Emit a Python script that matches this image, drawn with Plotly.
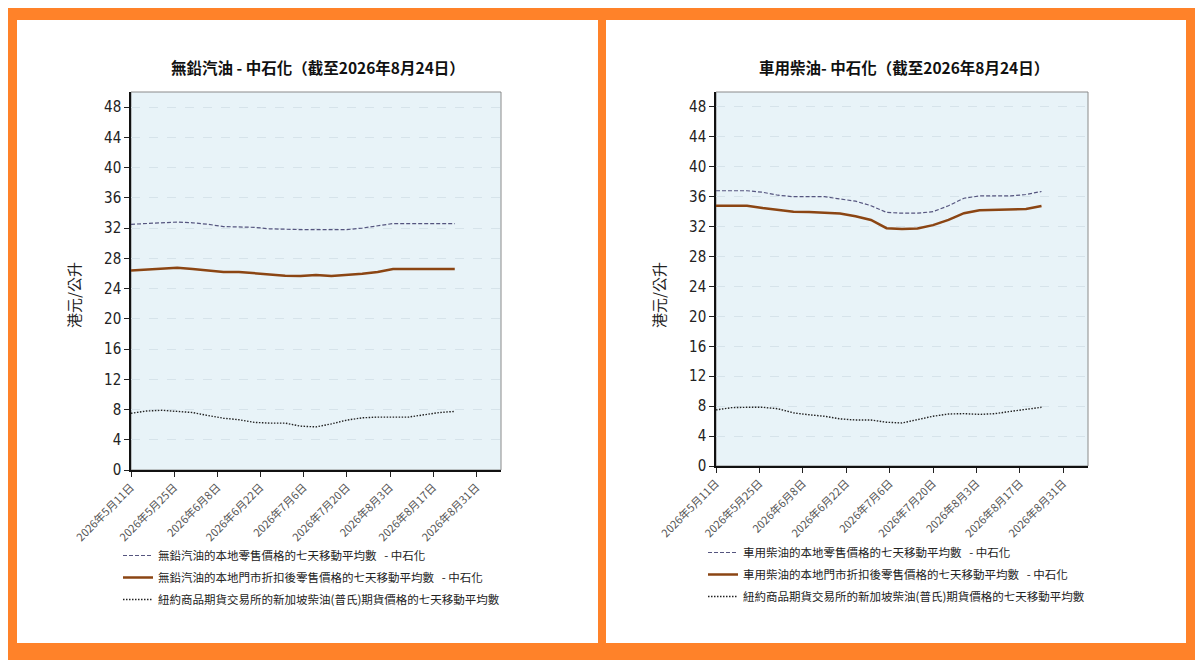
## Chart of 7-day moving averages for Sinopec fuel prices (two panels)
import plotly.graph_objects as go

# Dates of the readings (every 5 days, 11 May to 24 Aug 2026)
dates = ["2026-05-11", "2026-05-16", "2026-05-21", "2026-05-26", "2026-05-31",
         "2026-06-05", "2026-06-10", "2026-06-15", "2026-06-20", "2026-06-25",
         "2026-06-30", "2026-07-05", "2026-07-10", "2026-07-15", "2026-07-20",
         "2026-07-25", "2026-07-30", "2026-08-04", "2026-08-09", "2026-08-14",
         "2026-08-19", "2026-08-24"]

# Unleaded petrol (left panel)
petrol_retail = [32.5, 32.6, 32.7, 32.8, 32.7, 32.5, 32.2, 32.2, 32.1, 31.9, 31.8,
                 31.8, 31.8, 31.8, 31.8, 32.0, 32.3, 32.6, 32.6, 32.6, 32.6, 32.6]
petrol_discount = [26.4, 26.5, 26.6, 26.75, 26.6, 26.4, 26.2, 26.2, 26.0, 25.85, 25.7,
                   25.65, 25.8, 25.65, 25.75, 25.95, 26.2, 26.6, 26.6, 26.6, 26.6, 26.6]
petrol_futures = [7.5, 7.8, 7.9, 7.75, 7.6, 7.2, 6.85, 6.65, 6.3, 6.2, 6.2,
                  5.8, 5.7, 6.1, 6.6, 6.9, 7.0, 7.0, 7.0, 7.3, 7.6, 7.75]

# Motor diesel (right panel)
diesel_retail = [36.8, 36.8, 36.8, 36.6, 36.2, 36.0, 36.0, 36.0, 35.7, 35.4, 34.8,
                 33.9, 33.8, 33.8, 34.0, 34.8, 35.8, 36.1, 36.1, 36.1, 36.3, 36.7]
diesel_discount = [34.8, 34.8, 34.8, 34.5, 34.2, 34.0, 33.95, 33.9, 33.75, 33.4, 32.9,
                   31.8, 31.7, 31.75, 32.2, 32.9, 33.8, 34.2, 34.25, 34.25, 34.35, 34.75]
diesel_futures = [7.5, 7.8, 7.85, 7.85, 7.65, 7.1, 6.85, 6.65, 6.3, 6.15, 6.15,
                  5.85, 5.75, 6.2, 6.65, 6.95, 7.0, 6.9, 7.0, 7.3, 7.6, 7.85]

# Axis ticks
tick_dates = ["2026-05-11", "2026-05-25", "2026-06-08", "2026-06-22", "2026-07-06",
              "2026-07-20", "2026-08-03", "2026-08-17", "2026-08-31"]
tick_labels = ["2026年5月11日", "2026年5月25日", "2026年6月8日", "2026年6月22日",
               "2026年7月6日", "2026年7月20日", "2026年8月3日", "2026年8月17日",
               "2026年8月31日"]
y_ticks = list(range(0, 49, 4))

titles = ["無鉛汽油 - 中石化（截至2026年8月24日）", "車用柴油- 中石化（截至2026年8月24日）"]
names_petrol = ["無鉛汽油的本地零售價格的七天移動平均數   - 中石化",
                "無鉛汽油的本地門市折扣後零售價格的七天移動平均數   - 中石化",
                "紐約商品期貨交易所的新加坡柴油(普氏)期貨價格的七天移動平均數"]
names_diesel = ["車用柴油的本地零售價格的七天移動平均數   - 中石化",
                "車用柴油的本地門市折扣後零售價格的七天移動平均數   - 中石化",
                "紐約商品期貨交易所的新加坡柴油(普氏)期貨價格的七天移動平均數"]

# the page puts the figure 8px in from the top-left corner, so work in screen
# pixels and shift back by that amount
OFF = 8
W, H = 1203 - OFF, 660 - OFF
ORANGE = "#FF8229"
PLOT_BG = "#E8F3F8"
FONT = "Liberation Sans Narrow, DejaVu Sans Condensed, Noto Sans CJK TC, sans-serif"
CJK = "Noto Sans CJK TC, sans-serif"

def px(x):
    return (x - OFF) / W

def py(y):
    return 1 - (y - OFF) / H

fig = go.Figure()

panels = [
    ("x", "y", "legend", [petrol_retail, petrol_discount, petrol_futures], names_petrol),
    ("x2", "y2", "legend2", [diesel_retail, diesel_discount, diesel_futures], names_diesel),
]
styles = [
    dict(color="#55557F", width=1.2, dash="4px,2px"),
    dict(color="#8B4513", width=2.5),
    dict(color="#222222", width=1.4, dash="1.5px,1.5px"),
]
for p, (xa, ya, leg, series, names) in enumerate(panels):
    for k, (vals, name, st) in enumerate(zip(series, names, styles)):
        fig.add_trace(go.Scatter(x=dates, y=vals, name=name, mode="lines",
                                 line=st, xaxis=xa, yaxis=ya, legend=leg,
                                 legendgroup="g%d%d" % (p, k)))

# plot area positions in screen pixels: (left, right, top, bottom)
boxes = [(131, 501, 92, 470), (716, 1088, 92, 466)]

xaxis_common = dict(
    type="date", range=["2026-05-11", "2026-09-08"], automargin=False,
    tickvals=tick_dates, ticktext=tick_labels, tickangle=-45,
    ticks="outside", ticklen=5, tickcolor="#222", showgrid=False,
    showline=True, linecolor="#111", linewidth=1.5, zeroline=False,
    tickfont=dict(family=CJK, size=11, color="#555"),
)
yaxis_common = dict(
    range=[0, 50], tickvals=y_ticks, ticks="outside", ticklen=5, tickcolor="#222",
    automargin=False,
    showgrid=True, gridcolor="#D6E3EA", griddash="dash", gridwidth=1,
    showline=True, linecolor="#111", linewidth=1.5, zeroline=False,
    tickfont=dict(family=FONT, size=15, color="#222"),
)

legend_common = dict(xanchor="left", yanchor="top", bgcolor="rgba(0,0,0,0)",
                     font=dict(size=11.5, family=CJK), tracegroupgap=3)

fig.update_layout(
    width=W, height=H, autosize=False,
    margin=dict(l=0, r=0, t=0, b=0, autoexpand=False),
    paper_bgcolor=ORANGE, plot_bgcolor=PLOT_BG,
    font=dict(family=CJK, color="#222"),
    xaxis=dict(xaxis_common, domain=[px(boxes[0][0]), px(boxes[0][1])], anchor="y"),
    yaxis=dict(yaxis_common, domain=[py(boxes[0][3]), py(boxes[0][2])], anchor="x"),
    xaxis2=dict(xaxis_common, domain=[px(boxes[1][0]), px(boxes[1][1])], anchor="y2"),
    yaxis2=dict(yaxis_common, domain=[py(boxes[1][3]), py(boxes[1][2])], anchor="x2"),
    legend=dict(legend_common, x=px(118), y=py(541)),
    legend2=dict(legend_common, x=px(703), y=py(538)),
    showlegend=True,
)

# white panels, then the plot background box with a grey frame
for x0, x1 in [(17, 598), (606, 1186)]:
    fig.add_shape(type="rect", xref="paper", yref="paper", layer="below",
                  x0=px(x0), x1=px(x1), y0=py(643), y1=py(20),
                  fillcolor="white", line=dict(width=0))
for i, b in enumerate(boxes):
    sfx = "" if i == 0 else "2"
    fig.add_shape(type="rect", xref="x" + sfx + " domain", yref="y" + sfx + " domain",
                  layer="below", x0=0, x1=1, y0=0, y1=1,
                  fillcolor=PLOT_BG, line=dict(color="#8A8A8A", width=1))

# panel titles and y-axis titles
for i, b in enumerate(boxes):
    cx = (b[0] + b[1]) / 2
    fig.add_annotation(text="<b>" + titles[i] + "</b>", xref="paper", yref="paper",
                       x=px(cx + 2), y=py(67), xanchor="center", yanchor="middle",
                       showarrow=False, font=dict(size=15.5, family=CJK, color="#111"))
    fig.add_annotation(text="港元/公升", textangle=-90, xref="paper", yref="paper",
                       x=px(b[0] - 58), y=py(295), xanchor="center",
                       yanchor="middle", showarrow=False,
                       font=dict(size=15, family=CJK, color="#222"))

fig.write_html("out.html")
